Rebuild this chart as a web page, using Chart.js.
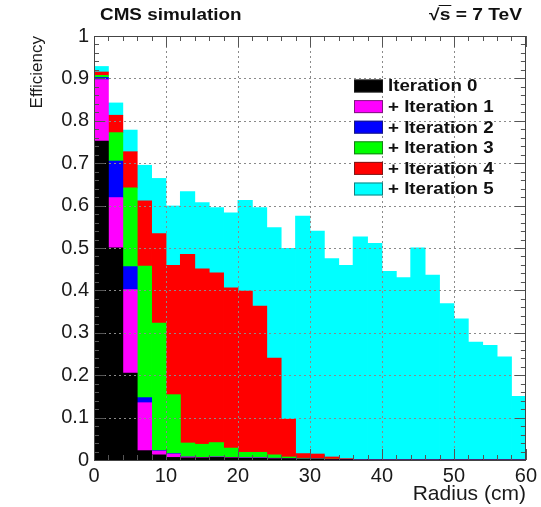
<!DOCTYPE html>
<html>
<head>
<meta charset="utf-8">
<script src="https://cdn.jsdelivr.net/npm/chart.js@4"></script>
<style>
html, body { margin: 0; padding: 0; background: #fff; }
</style>
</head>
<body>
<canvas id="eff_plot" width="541" height="507"></canvas>
<script>
// bin centres of the 2 cm radius bins
binCenters = [1, 3, 5, 7, 9, 11, 13, 15, 17, 19, 21, 23, 25, 27, 29, 31, 33, 35, 37, 39, 41, 43, 45, 47, 49, 51, 53, 55, 57, 59];

// efficiency gained by each iteration (stacked)
iter0 = [0.752, 0.500, 0.205, 0.022, 0.012, 0.006, 0.005, 0.005, 0.006, 0.005, 0.004, 0.004, 0.003, 0.003, 0.002, 0.002, 0.001, 0.001, 0, 0, 0, 0, 0, 0, 0, 0, 0, 0, 0, 0];
iter1 = [0.145, 0.119, 0.197, 0.113, 0.009, 0.008, 0.002, 0.001, 0.001, 0.001, 0.001, 0.001, 0.001, 0, 0, 0, 0, 0, 0, 0, 0, 0, 0, 0, 0, 0, 0, 0, 0, 0];
iter2 = [0.005, 0.086, 0.054, 0.012, 0.001, 0.001, 0, 0, 0, 0, 0, 0, 0, 0, 0, 0, 0, 0, 0, 0, 0, 0, 0, 0, 0, 0, 0, 0, 0, 0];
iter3 = [0.005, 0.067, 0.186, 0.310, 0.301, 0.139, 0.033, 0.031, 0.034, 0.022, 0.013, 0.013, 0.008, 0.004, 0.002, 0.001, 0.001, 0, 0, 0, 0, 0, 0, 0, 0, 0, 0, 0, 0, 0];
iter4 = [0.008, 0.041, 0.085, 0.154, 0.211, 0.305, 0.445, 0.414, 0.400, 0.378, 0.380, 0.345, 0.228, 0.089, 0.011, 0.011, 0.005, 0.002, 0, 0, 0, 0, 0, 0, 0, 0, 0, 0, 0, 0];
iter5 = [0.013, 0.029, 0.051, 0.084, 0.130, 0.140, 0.148, 0.156, 0.154, 0.177, 0.214, 0.232, 0.308, 0.403, 0.560, 0.526, 0.468, 0.456, 0.526, 0.511, 0.445, 0.430, 0.500, 0.436, 0.369, 0.333, 0.278, 0.270, 0.243, 0.150];

iterLabels = ['Iteration 0', '+ Iteration 1', '+ Iteration 2', '+ Iteration 3', '+ Iteration 4', '+ Iteration 5'];
iterColors = ['#000000', '#ff00ff', '#0000ff', '#00ff00', '#ff0000', '#00ffff'];

xMajor = [0, 10, 20, 30, 40, 50, 60];
yMajor = [0, 0.1, 0.2, 0.3, 0.4, 0.5, 0.6, 0.7, 0.8, 0.9, 1];

const allIters = [iter0, iter1, iter2, iter3, iter4, iter5];

// text stretched a bit in x, like the ROOT picture
function wideText(ctx, txt, x, y, font, sx, align) {
    ctx.save();
    ctx.font = font;
    ctx.textBaseline = 'middle';
    ctx.textAlign = 'left';
    const w = ctx.measureText(txt).width * sx;
    let x0 = x;
    if (align === 'right') x0 = x - w;
    ctx.translate(x0, y);
    ctx.scale(sx, 1);
    ctx.fillText(txt, 0, 0);
    ctx.restore();
    return w;
}

// ROOT-like frame: dotted grid, ticks inside on all four sides, legend and header
const rootFrame = {
    id: 'rootFrame',
    afterDatasetsDraw(chart) {
        const ctx = chart.ctx;
        const a = chart.chartArea;
        const xs = chart.scales.x;
        const ys = chart.scales.y;

        ctx.save();
        // grid
        ctx.strokeStyle = '#8a8a8a';
        ctx.lineWidth = 1;
        ctx.setLineDash([2, 3]);
        xMajor.slice(1, -1).forEach(v => {
            const px = Math.round(xs.getPixelForValue(v)) + 0.5;
            ctx.beginPath(); ctx.moveTo(px, a.top); ctx.lineTo(px, a.bottom); ctx.stroke();
        });
        yMajor.slice(1, -1).forEach(v => {
            const py = Math.round(ys.getPixelForValue(v)) + 0.5;
            ctx.beginPath(); ctx.moveTo(a.left, py); ctx.lineTo(a.right, py); ctx.stroke();
        });
        ctx.setLineDash([]);

        // ticks
        ctx.strokeStyle = '#555';
        ctx.beginPath();
        for (let v = 0; v <= 60; v += 2) {
            const px = Math.round(xs.getPixelForValue(v)) + 0.5;
            const len = (v % 10 === 0) ? 11 : 5;
            ctx.moveTo(px, a.bottom); ctx.lineTo(px, a.bottom - len);
            ctx.moveTo(px, a.top); ctx.lineTo(px, a.top + len);
        }
        for (let i = 0; i <= 50; i++) {
            const py = Math.round(ys.getPixelForValue(i * 0.02)) + 0.5;
            const len = (i % 5 === 0) ? 11 : 5;
            ctx.moveTo(a.left, py); ctx.lineTo(a.left + len, py);
            ctx.moveTo(a.right, py); ctx.lineTo(a.right - len, py);
        }
        ctx.stroke();

        // frame
        ctx.strokeStyle = '#444';
        ctx.strokeRect(Math.round(a.left) + 0.5, Math.round(a.top) + 0.5,
                       Math.round(a.right - a.left) - 1, Math.round(a.bottom - a.top));

        // legend
        chart.data.datasets.forEach((ds, i) => {
            const cy = 86 + i * 20.6;
            ctx.fillStyle = ds.backgroundColor;
            ctx.fillRect(354, cy - 6.5, 29, 13);
            ctx.strokeStyle = 'rgba(40,40,40,0.6)';
            ctx.strokeRect(354.5, cy - 6, 28, 12);
            ctx.fillStyle = '#111';
            wideText(ctx, ds.label, 388, cy + 1, 'bold 16px "Liberation Sans", Arial, sans-serif', 1.17, 'left');
        });

        // header
        ctx.fillStyle = '#111';
        wideText(ctx, 'CMS simulation', 100, 16, 'bold 16px "Liberation Sans", Arial, sans-serif', 1.18, 'left');
        const w = wideText(ctx, '√s = 7 TeV', 522, 16, 'bold 16px "Liberation Sans", Arial, sans-serif', 1.2, 'right');
        ctx.font = 'bold 16px "Liberation Sans", Arial, sans-serif';
        const wRoot = ctx.measureText('√').width * 1.2;
        const wS = ctx.measureText('s').width * 1.2;
        ctx.strokeStyle = '#111';
        ctx.lineWidth = 1;
        ctx.beginPath();
        ctx.moveTo(522 - w + wRoot - 1, 5.5);
        ctx.lineTo(522 - w + wRoot + wS + 1, 5.5);
        ctx.stroke();
        ctx.restore();
    }
};

const datasets = allIters.map((vals, i) => ({
    label: iterLabels[i],
    data: vals.map((y, j) => ({ x: binCenters[j], y: y })),
    backgroundColor: iterColors[i],
    borderWidth: 0,
    inflateAmount: 0.4,
    barPercentage: 1.0,
    categoryPercentage: 1.0,
    stack: 'eff'
}));

ctxEff = new Chart(document.getElementById('eff_plot').getContext('2d'), {
    type: 'bar',
    data: { datasets: datasets },
    options: {
        responsive: false,
        animation: false,
        layout: { padding: { left: 0, right: 14, top: 36, bottom: 0 } },
        plugins: {
            legend: { display: false },
            tooltip: { enabled: false }
        },
        scales: {
            x: {
                type: 'linear',
                stacked: true,
                offset: false,
                min: 0,
                max: 60,
                grid: { display: false, offset: false, drawTicks: false },
                border: { display: false },
                ticks: {
                    stepSize: 10,
                    padding: 4,
                    color: '#1a1a1a',
                    maxRotation: 0,
                    font: { family: 'Liberation Sans', size: 20 }
                },
                title: {
                    display: true,
                    text: 'Radius (cm)',
                    align: 'end',
                    color: '#1a1a1a',
                    padding: { top: 0, bottom: 0 },
                    font: { family: 'Liberation Sans', size: 21 }
                },
                afterFit: function(scale) { scale.height = 47; }
            },
            y: {
                stacked: true,
                min: 0,
                max: 1,
                grid: { display: false, drawTicks: false },
                border: { display: false },
                ticks: {
                    stepSize: 0.1,
                    padding: 5,
                    color: '#1a1a1a',
                    font: { family: 'Liberation Sans', size: 20 },
                    callback: function(v) {
                        if (v === 0) return '0';
                        if (v === 1) return '1';
                        return v.toFixed(1);
                    }
                },
                title: {
                    display: true,
                    text: 'Efficiency',
                    align: 'end',
                    color: '#1a1a1a',
                    padding: { top: 27, bottom: 0 },
                    font: { family: 'Liberation Sans', size: 17 }
                },
                afterFit: function(scale) { scale.width = 94; }
            }
        }
    },
    plugins: [rootFrame]
});
</script>
</body>
</html>
